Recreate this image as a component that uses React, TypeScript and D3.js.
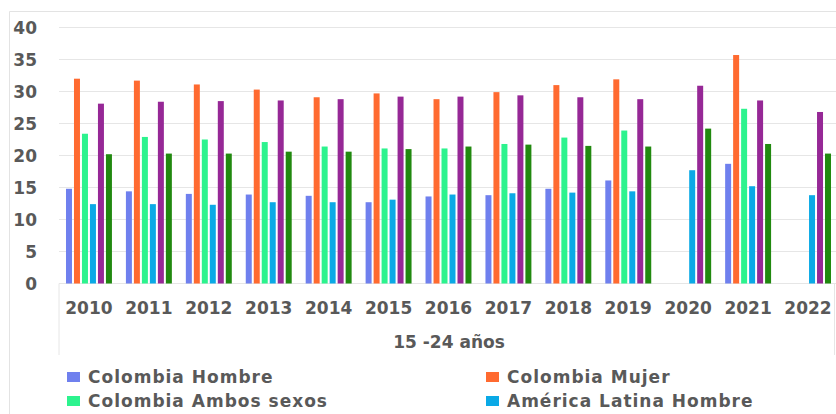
import React from "react";
import { scaleBand, scaleLinear } from "d3";

// tasa de desempleo 15-24 años
const years = ["2010", "2011", "2012", "2013", "2014", "2015", "2016", "2017", "2018", "2019", "2020", "2021", "2022"];

const seriesNames = [
  "Colombia Hombre",
  "Colombia Mujer",
  "Colombia Ambos sexos",
  "América Latina Hombre",
  "América Latina Mujer",
  "América Latina Ambos sexos",
];

const colors = ["#6F80EE", "#FF6A30", "#2CF38E", "#0AA9E6", "#962896", "#21890F"];

const colHombre = [14.8, 14.4, 14.0, 13.9, 13.7, 12.7, 13.6, 13.8, 14.8, 16.1, null, 18.7, null];
const colMujer = [32.0, 31.7, 31.1, 30.3, 29.1, 29.7, 28.8, 29.9, 31.0, 31.9, null, 35.7, null];
const colAmbos = [23.4, 22.9, 22.5, 22.1, 21.4, 21.1, 21.1, 21.8, 22.8, 23.9, null, 27.3, null];
const alHombre = [12.4, 12.4, 12.3, 12.7, 12.7, 13.1, 13.9, 14.1, 14.2, 14.4, 17.7, 15.2, 13.8];
const alMujer = [28.1, 28.4, 28.5, 28.6, 28.8, 29.2, 29.2, 29.4, 29.1, 28.8, 30.9, 28.6, 26.8];
const alAmbos = [20.2, 20.3, 20.3, 20.6, 20.6, 21.0, 21.4, 21.7, 21.5, 21.4, 24.2, 21.8, 20.3];

const series = [colHombre, colMujer, colAmbos, alHombre, alMujer, alAmbos];

const yTicks = [0, 5, 10, 15, 20, 25, 30, 35, 40];

// only the first four legend entries are visible
const legendItems = [0, 1, 2, 3];

const font = "'DejaVu Sans', Verdana, sans-serif";
const textColor = "#595959";

export default function App() {
  const width = 836;
  const height = 414;

  const x = scaleBand<string>()
    .domain(years)
    .range([59, 838])
    .paddingInner(0.2)
    .paddingOuter(0.1);

  const xInner = scaleBand<number>()
    .domain(seriesNames.map((_, i) => i))
    .range([0, x.bandwidth()])
    .paddingInner(0.25)
    .paddingOuter(0.125);

  const y = scaleLinear().domain([0, 40]).range([283.5, 27.5]);

  return (
    <svg
      width={width}
      height={height}
      style={{ position: "absolute", left: 0, top: 0, background: "#fff" }}
    >
      {/* outer frame */}
      <line x1={9.5} x2={width} y1={11.5} y2={11.5} stroke="#e3e3e3" />
      <line x1={9.5} x2={9.5} y1={11.5} y2={height} stroke="#e3e3e3" />

      {/* grid */}
      {yTicks.map((t) => (
        <g key={t}>
          <line x1={59} x2={width} y1={y(t)} y2={y(t)} stroke="#e6e6e6" strokeWidth={1.2} />
          <text
            x={37}
            y={y(t)}
            dy="0.36em"
            textAnchor="end"
            fontFamily={font}
            fontWeight="bold"
            fontSize={17}
            fill={textColor}
          >
            {t}
          </text>
        </g>
      ))}

      {/* category box */}
      <line x1={59} x2={59} y1={283.5} y2={355} stroke="#e6e6e6" />
      <line x1={834.5} x2={834.5} y1={283.5} y2={355} stroke="#e6e6e6" />

      {/* bars */}
      {years.map((yr, i) => (
        <g key={yr} transform={`translate(${x(yr)},0)`}>
          {series.map((vals, s) => {
            const v = vals[i];
            if (v == null) return null;
            return (
              <rect
                key={s}
                x={xInner(s)}
                y={y(v)}
                width={xInner.bandwidth()}
                height={y(0) - y(v)}
                fill={colors[s]}
              />
            );
          })}
          <text
            x={x.bandwidth() / 2}
            y={314}
            textAnchor="middle"
            fontFamily={font}
            fontWeight="bold"
            fontSize={17}
            fill={textColor}
          >
            {yr}
          </text>
        </g>
      ))}

      <text
        x={449}
        y={348}
        textAnchor="middle"
        fontFamily={font}
        fontWeight="bold"
        fontSize={17}
        fill={textColor}
      >
        15 -24 años
      </text>

      {/* legend */}
      {legendItems.map((s, k) => {
        const lx = k % 2 === 0 ? 67 : 486;
        const ly = k < 2 ? 377 : 401;
        return (
          <g key={s}>
            <rect x={lx} y={ly - 5} width={13} height={10} fill={colors[s]} />
            <text
              x={lx + 21}
              y={ly}
              dy="0.36em"
              fontFamily={font}
              fontWeight="bold"
              fontSize={17}
              letterSpacing={1}
              fill={textColor}
            >
              {seriesNames[s]}
            </text>
          </g>
        );
      })}
    </svg>
  );
}
